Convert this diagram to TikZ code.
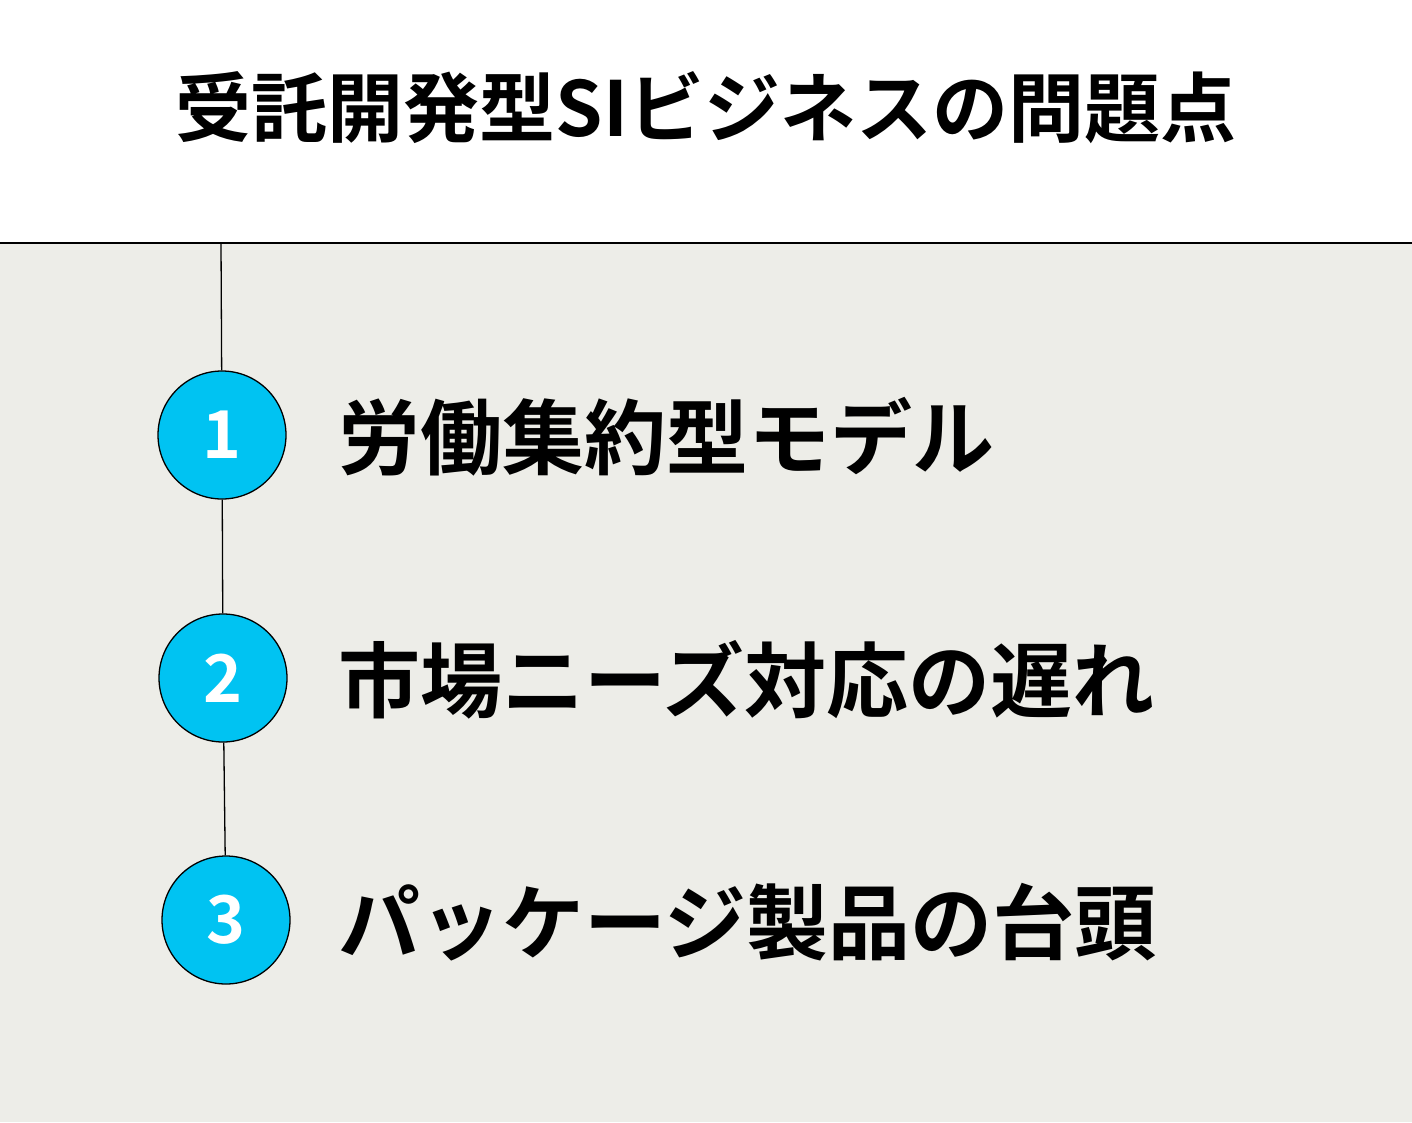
\documentclass[tikz,border=0pt]{standalone}
\usepackage{fontspec}
\newfontfamily\cjk{Noto Sans CJK JP Bold}
\definecolor{bg}{HTML}{EDEDE8}
\definecolor{cy}{HTML}{00C3F2}
\begin{document}
\begin{tikzpicture}[x=1pt,y=-1pt,
  num/.style={circle,draw=black,line width=1.3pt,fill=cy,minimum size=128pt,inner sep=0pt,text=white,font=\cjk\fontsize{66}{70}\selectfont},
  item/.style={anchor=west,inner sep=0pt,font=\cjk\fontsize{82}{90}\selectfont}]
\useasboundingbox (0,0) rectangle (1412,1122);
\fill[bg] (0,243) rectangle (1412,1122);
\draw[line width=1.3pt] (0,243) -- (1412,243);
\node[inner sep=0pt,font=\cjk\fontsize{76}{80}\selectfont] (title) at (706,108) {受託開発型SIビジネスの問題点};
\coordinate (top) at (221,243);
\node[num] (n1) at (222,435) {1};
\node[num] (n2) at (223,678) {2};
\node[num] (n3) at (226,920) {3};
\draw[line width=1.3pt] (top) -- (n1) (n1) -- (n2) (n2) -- (n3);
\node[item] (t1) at (338,437) {労働集約型モデル};
\node[item] (t2) at (338,680) {市場ニーズ対応の遅れ};
\node[item] (t3) at (338,922) {パッケージ製品の台頭};
\end{tikzpicture}
\end{document}
